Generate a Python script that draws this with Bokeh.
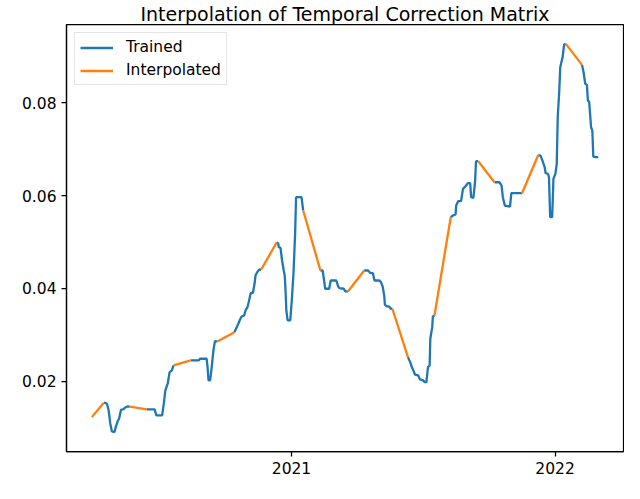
from bokeh.plotting import figure
from bokeh.models import Range1d, FixedTicker, NumeralTickFormatter, Legend, LegendItem
from bokeh.embed import file_html
from bokeh.resources import INLINE

chart_title = "Interpolation of Temporal Correction Matrix"
series_names = ["Trained", "Interpolated"]
series_colors = ["#1f77b4", "#ff7f0e"]
x_ticks = [2021, 2022]
x_tick_labels = ["2021", "2022"]
y_ticks = [0.02, 0.04, 0.06, 0.08]

# time as decimal year, value of the temporal correction
decimal_year = [
    2020.2424, 2020.2878, 2020.3000, 2020.3063, 2020.3125, 2020.3185, 2020.3284, 2020.3332,
    2020.3406, 2020.3458, 2020.3531, 2020.3616, 2020.3679, 2020.3775, 2020.3863, 2020.4513,
    2020.4808, 2020.4871, 2020.5092, 2020.5155, 2020.5214, 2020.5303, 2020.5376, 2020.5461,
    2020.5524, 2020.6173, 2020.6483, 2020.6531, 2020.6779, 2020.6815, 2020.6852, 2020.6911,
    2020.6974, 2020.7037, 2020.7096, 2020.7185, 2020.7834, 2020.7923, 2020.7982, 2020.8044,
    2020.8107, 2020.8203, 2020.8255, 2020.8328, 2020.8376, 2020.8450, 2020.8535, 2020.8598,
    2020.8635, 2020.8697, 2020.8782, 2020.8845, 2020.9435, 2020.9494, 2020.9520, 2020.9583,
    2020.9642, 2020.9705, 2020.9742, 2020.9768, 2020.9804, 2020.9852, 2020.9952, 2021.0011,
    2021.0074, 2021.0137, 2021.0173, 2021.0380, 2021.0443, 2021.1096, 2021.1181, 2021.1218,
    2021.1280, 2021.1428, 2021.1487, 2021.1697, 2021.1771, 2021.1819, 2021.1982, 2021.2041,
    2021.2140, 2021.2756, 2021.2904, 2021.3000, 2021.3089, 2021.3148, 2021.3332, 2021.3395,
    2021.3458, 2021.3517, 2021.3542, 2021.3616, 2021.3701, 2021.3764, 2021.3827, 2021.4417,
    2021.4502, 2021.4565, 2021.4624, 2021.4686, 2021.4808, 2021.4871, 2021.4993, 2021.5055,
    2021.5118, 2021.5177, 2021.5240, 2021.5266, 2021.5339, 2021.5362, 2021.5424, 2021.6041,
    2021.6125, 2021.6225, 2021.6247, 2021.6321, 2021.6432, 2021.6506, 2021.6594, 2021.6690,
    2021.6779, 2021.6815, 2021.6900, 2021.6963, 2021.7000, 2021.7085, 2021.7701, 2021.7886,
    2021.7970, 2021.8018, 2021.8092, 2021.8291, 2021.8339, 2021.8745, 2021.9362, 2021.9446,
    2021.9520, 2021.9605, 2021.9642, 2021.9731, 2021.9768, 2021.9790, 2021.9815, 2021.9889,
    2021.9915, 2021.9937, 2022.0011, 2022.0063, 2022.0100, 2022.0159, 2022.0196, 2022.0284,
    2022.0343, 2022.0406, 2022.1022, 2022.1081, 2022.1144, 2022.1207, 2022.1244, 2022.1292,
    2022.1328, 2022.1365, 2022.1413, 2022.1450, 2022.1539, 2022.1635,
]
correction = [
    0.01232, 0.01542, 0.01521, 0.01376, 0.01090, 0.00925, 0.00910, 0.01017,
    0.01146, 0.01198, 0.01392, 0.01398, 0.01435, 0.01462, 0.01456, 0.01398,
    0.01398, 0.01269, 0.01269, 0.01521, 0.01807, 0.01951, 0.02200, 0.02237,
    0.02344, 0.02452, 0.02452, 0.02488, 0.02488, 0.02308, 0.02022, 0.02022,
    0.02308, 0.02667, 0.02867, 0.02860, 0.03060, 0.03168, 0.03241, 0.03327,
    0.03398, 0.03419, 0.03527, 0.03598, 0.03705, 0.03899, 0.03908, 0.04101,
    0.04280, 0.04351, 0.04409, 0.04402, 0.04989, 0.04974, 0.04888, 0.04875,
    0.04602, 0.04387, 0.04280, 0.04028, 0.03527, 0.03312, 0.03312, 0.03742,
    0.04316, 0.05176, 0.05964, 0.05964, 0.05678, 0.04387, 0.04387, 0.04243,
    0.03994, 0.03994, 0.04172, 0.04172, 0.04043, 0.04007, 0.03994, 0.03936,
    0.03936, 0.04387, 0.04387, 0.04329, 0.04329, 0.04172, 0.04172, 0.04136,
    0.04043, 0.03850, 0.03656, 0.03613, 0.03613, 0.03564, 0.03564, 0.02523,
    0.02415, 0.02308, 0.02237, 0.02144, 0.02129, 0.02043, 0.02022, 0.01985,
    0.01985, 0.02308, 0.02344, 0.02918, 0.03168, 0.03398, 0.03419, 0.05533,
    0.05570, 0.05591, 0.05785, 0.05878, 0.05878, 0.06144, 0.06194, 0.06265,
    0.06265, 0.05964, 0.05951, 0.06286, 0.06738, 0.06738, 0.06286, 0.06286,
    0.06215, 0.05964, 0.05785, 0.05763, 0.06050, 0.06050, 0.06871, 0.06860,
    0.06753, 0.06609, 0.06480, 0.06467, 0.06394, 0.05964, 0.05533, 0.05533,
    0.05964, 0.06359, 0.06467, 0.06682, 0.07684, 0.08258, 0.08759, 0.08974,
    0.09247, 0.09262, 0.08811, 0.08652, 0.08402, 0.08381, 0.08043, 0.08022,
    0.07757, 0.07469, 0.07398, 0.06839, 0.06824, 0.06824,
]
# index i means the step from point i to point i+1 was interpolated
interpolated_steps = [0, 14, 24, 35, 51, 68, 80, 94, 110, 125, 133, 153]

# split the series into trained runs and interpolated steps
interp_set = set(interpolated_steps)
trained_xs, trained_ys, interp_xs, interp_ys = [], [], [], []
run_x, run_y = [], []
for i in range(len(decimal_year) - 1):
    if i in interp_set:
        if len(run_x) > 1:
            trained_xs.append(run_x)
            trained_ys.append(run_y)
        run_x, run_y = [], []
        interp_xs.append([decimal_year[i], decimal_year[i + 1]])
        interp_ys.append([correction[i], correction[i + 1]])
    else:
        if not run_x:
            run_x, run_y = [decimal_year[i]], [correction[i]]
        run_x.append(decimal_year[i + 1])
        run_y.append(correction[i + 1])
if len(run_x) > 1:
    trained_xs.append(run_x)
    trained_ys.append(run_y)

xmin, xmax = min(decimal_year), max(decimal_year)
ymin, ymax = min(correction), max(correction)
xpad, ypad = 0.05 * (xmax - xmin), 0.05 * (ymax - ymin)

FONT = "DejaVu Sans"

p = figure(
    width=624, height=483,
    output_backend="svg", toolbar_location=None,
    x_range=Range1d(xmin - xpad, xmax + xpad),
    y_range=Range1d(ymin - ypad, ymax + ypad),
    min_border_left=66, min_border_right=1, min_border_top=10, min_border_bottom=32,
    background_fill_color="white", border_fill_color="white",
)
p.grid.visible = False
p.outline_line_color = "black"
p.outline_line_width = 1.25

p.title.text = chart_title
p.title.align = "center"
p.title.text_font = FONT
p.title.text_font_size = "19px"
p.title.text_font_style = "normal"
p.title.text_color = "black"
p.title.standoff = 0

r_trained = p.multi_line(trained_xs, trained_ys, line_color=series_colors[0], line_width=2.3)
r_interp = p.multi_line(interp_xs, interp_ys, line_color=series_colors[1], line_width=2.3)

p.xaxis.ticker = FixedTicker(ticks=x_ticks)
p.xaxis.major_label_overrides = {t: lab for t, lab in zip(x_ticks, x_tick_labels)}
p.yaxis.ticker = FixedTicker(ticks=y_ticks)
p.yaxis.formatter = NumeralTickFormatter(format="0.00")
for ax in (p.xaxis, p.yaxis):
    ax.major_tick_in = 0
    ax.major_tick_out = 5
    ax.minor_tick_in = 0
    ax.minor_tick_out = 0
    ax.axis_line_color = "black"
    ax.axis_line_width = 1.25
    ax.major_tick_line_color = "black"
    ax.major_tick_line_width = 1.25
    ax.major_label_text_font = FONT
    ax.major_label_text_font_size = "15.5px"
    ax.major_label_text_color = "black"
    ax.major_label_standoff = 5

legend = Legend(
    items=[LegendItem(label=series_names[0], renderers=[r_trained]),
           LegendItem(label=series_names[1], renderers=[r_interp])],
    location="top_left",
    margin=8, padding=5, spacing=5,
    glyph_width=33, glyph_height=17, label_height=17, label_standoff=13,
    label_text_font=FONT, label_text_font_size="15.5px", label_text_color="black",
    border_line_color="#cccccc", border_line_width=1,
    background_fill_color="white", background_fill_alpha=0.8,
)
p.add_layout(legend)

open("out.html", "w").write(file_html(p, INLINE))
